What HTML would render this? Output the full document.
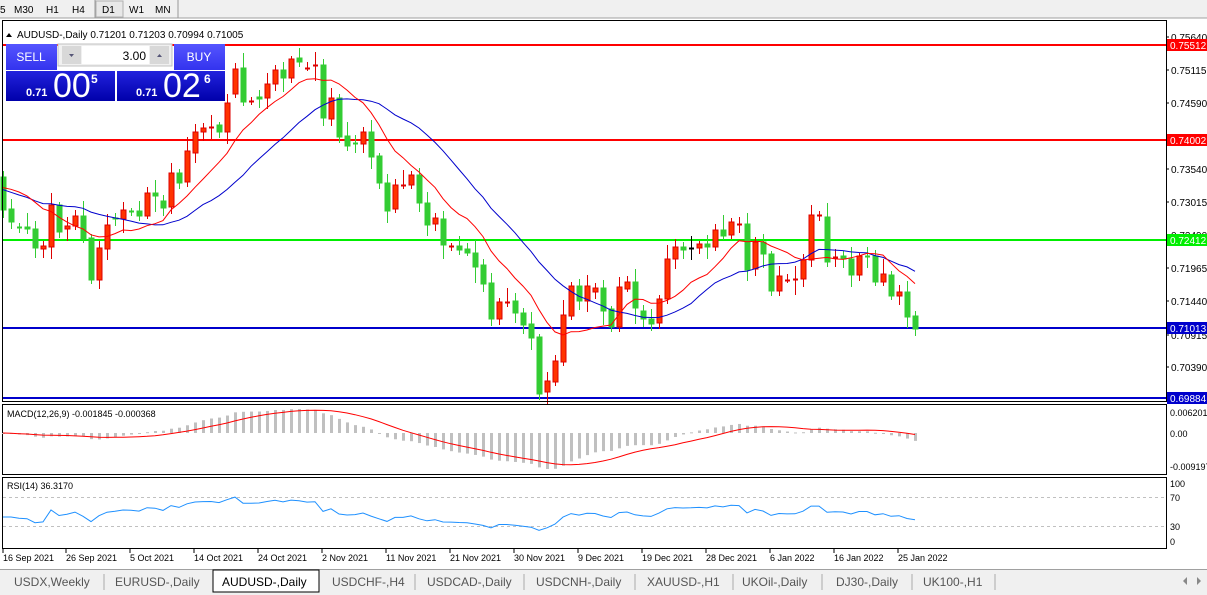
<!DOCTYPE html>
<html><head><meta charset="utf-8"><style>
body{margin:0;width:1207px;height:595px;overflow:hidden;background:#fff;font-family:"Liberation Sans",Tahoma,sans-serif;}
svg{position:absolute;left:0;top:0}
</style></head><body>
<svg id="s" width="1207" height="595" xmlns="http://www.w3.org/2000/svg" font-family="Liberation Sans, sans-serif" font-size="10"></svg>
<script>
const D=[
[177,210,'G'],[209,222,'G'],[227,227,'G'],[227,229,'G'],[229,248,'G'],[246,249,'R'],[205,247,'R'],[205,232,'G'],[226,229,'R'],[216,226,'R'],
[216,239,'G'],[238,280,'G'],[248,280,'R'],[225,249,'R'],[218,219,'G'],[210,219,'R'],[211,211,'G'],[211,216,'G'],[193,216,'R'],[193,196,'G'],
[201,208,'G'],[173,207,'R'],[173,183,'G'],[151,182,'R'],[132,153,'R'],[128,132,'R'],[127,127,'R'],[125,132,'G'],[103,132,'R'],[69,94,'R'],
[68,102,'G'],[101,101,'R'],[97,99,'G'],[84,98,'R'],[70,84,'R'],[70,78,'G'],[59,78,'R'],[58,62,'G'],[68,68,'R'],[65,65,'R'],
[65,118,'G'],[98,119,'R'],[98,137,'G'],[136,146,'G'],[143,143,'G'],[132,144,'R'],[132,157,'G'],[156,183,'G'],[183,211,'G'],[185,209,'R'],
[185,185,'R'],[175,185,'R'],[175,203,'G'],[203,225,'G'],[218,224,'R'],[219,245,'G'],[246,246,'R'],[246,250,'G'],[249,253,'G'],[253,267,'G'],
[265,284,'G'],[283,319,'G'],[302,319,'R'],[302,302,'R'],[301,313,'G'],[313,325,'G'],[324,338,'G'],[337,394,'G'],[381,392,'R'],[361,382,'R'],
[315,362,'R'],[286,316,'R'],[286,301,'G'],[286,301,'R'],[288,292,'R'],[288,311,'G'],[309,327,'G'],[287,327,'R'],[282,289,'R'],[282,308,'G'],
[311,319,'G'],[319,324,'G'],[299,323,'R'],[259,299,'R'],[247,259,'R'],[247,250,'G'],[248,248,'K'],[244,248,'R'],[244,247,'G'],[230,247,'R'],
[230,236,'G'],[222,235,'R'],[224,224,'R'],[224,270,'G'],[242,269,'R'],[242,254,'G'],[254,291,'G'],[276,291,'R'],[280,280,'R'],[279,279,'R'],
[260,279,'R'],[215,260,'R'],[215,215,'R'],[217,262,'G'],[257,257,'R'],[256,259,'G'],[259,275,'G'],[256,275,'R'],[256,256,'G'],[256,282,'G'],
[274,282,'R'],[275,296,'G'],[292,296,'R'],[292,317,'G'],[316,329,'G']];
const WU=[6,10,4,14,8,5,12,3,9,6,15,4,7,11,5,8,3,10,6,13];
const WD=[8,5,12,4,9,14,3,7,10,6,4,11,5,16,6,9,12,4,7,5];
let h='';
const X=i=>3+8*i;
h+=`<rect x="0" y="0" width="1207" height="18" fill="#f0f0f0"/>`;
h+=`<line x1="0" y1="18" x2="1207" y2="18" stroke="#a0a0a0"/>`;
[['5',0],['M30',14],['H1',46],['H4',72],['W1',129],['MN',155]].forEach(t=>h+=`<text x="${t[1]}" y="13" font-size="10" fill="#000">${t[0]}</text>`);
h+=`<rect x="96" y="1" width="27" height="16" fill="#e8e8e8" stroke="#b0b0b0"/><text x="102" y="13" font-size="10">D1</text>`;
h+=`<line x1="95" y1="0" x2="95" y2="18" stroke="#999"/><line x1="178" y1="0" x2="178" y2="18" stroke="#999"/>`;
const HL=[[45,'#ff0000','0.75512'],[140,'#ff0000','0.74002'],[240,'#00ee00','0.72412'],[328,'#0000cc','0.71013'],[398,'#0000cc','0.69884']];
HL.forEach(l=>h+=`<line x1="3" y1="${l[0]}" x2="1166" y2="${l[0]}" stroke="${l[1]}" stroke-width="2"/>`);
const closes=[];
D.forEach((d,i)=>{const x=X(i);let top=d[0],bot=d[1];const hi=top-WU[i%20],lo=bot+WD[(i*7)%20];
 const c=d[2]=='G'?'#33cc33':d[2]=='R'?'#ff3300':'#000';const st=d[2]=='G'?'#33cc33':d[2]=='R'?'#dd0000':'#000';
 closes.push(d[2]=='G'?bot:top);
 h+=`<line x1="${x+.5}" y1="${hi}" x2="${x+.5}" y2="${lo}" stroke="${st}"/>`;
 if(bot-top<1)h+=`<line x1="${x-2}" y1="${top+.5}" x2="${x+3}" y2="${top+.5}" stroke="${st}" stroke-width="2"/>`;
 else h+=`<rect x="${x-2}" y="${top}" width="5" height="${bot-top}" fill="${c}" stroke="${st}" stroke-width="1"/>`;});
function pl(a,col){return `<polyline fill="none" stroke="${col}" stroke-width="1" points="${a.map((v,i)=>X(i)+','+v.toFixed(1)).join(' ')}"/>`;}
const pre=[210,205,200,190,185,180,178,175,177,176];
function sma2(p){const all=pre.concat(closes);return closes.map((c,i)=>{let s=0,n=0;const k=i+pre.length;for(let j=Math.max(0,k-p+1);j<=k;j++){s+=all[j];n++;}return s/n;});}
h+=pl(sma2(20),'#0000cc')+pl(sma2(10),'#ff0000');
h+=`<polygon points="6,37 12,37 9,33" fill="#000"/><text x="17" y="38" font-size="10">AUDUSD-,Daily  0.71201 0.71203 0.70994 0.71005</text>`;
h+=`<defs><linearGradient id="gb" x1="0" y1="0" x2="0" y2="1"><stop offset="0" stop-color="#5555ff"/><stop offset="1" stop-color="#3333ee"/></linearGradient><linearGradient id="gd" x1="0" y1="0" x2="0" y2="1"><stop offset="0" stop-color="#2222dd"/><stop offset="1" stop-color="#0000aa"/></linearGradient></defs>`;
h+=`<rect x="6" y="44" width="51" height="26" fill="url(#gb)"/><text x="31" y="61" font-size="12" fill="#fff" text-anchor="middle">SELL</text>`;
h+=`<rect x="174" y="44" width="51" height="26" fill="url(#gb)"/><text x="199" y="61" font-size="12" fill="#fff" text-anchor="middle">BUY</text>`;
h+=`<rect x="58" y="44" width="114" height="22" fill="#f0f0f0" stroke="#c0c0c0"/><rect x="62" y="46" width="19" height="18" fill="#d8d8d8"/><rect x="150" y="46" width="19" height="18" fill="#d8d8d8"/><rect x="82" y="46" width="67" height="18" fill="#fff"/><text x="146" y="60" font-size="12" text-anchor="end">3.00</text><polygon points="69,54 74,54 71.5,57" fill="#557"/><polygon points="157,57 162,57 159.5,54" fill="#557"/>`;
h+=`<rect x="6" y="71" width="109" height="30" fill="url(#gd)"/><rect x="117" y="71" width="108" height="30" fill="url(#gd)"/>`;
h+=`<text x="26" y="96" font-size="11" fill="#fff" font-weight="bold">0.71</text><text x="53" y="97" font-size="34" fill="#fff">00</text><text x="91" y="83" font-size="12" fill="#fff" font-weight="bold">5</text>`;
h+=`<text x="136" y="96" font-size="11" fill="#fff" font-weight="bold">0.71</text><text x="163" y="97" font-size="34" fill="#fff">02</text><text x="204" y="83" font-size="12" fill="#fff" font-weight="bold">6</text>`;
h+=`<rect x="2.5" y="20.5" width="1164" height="381" fill="none" stroke="#000"/>`;
h+=`<rect x="2.5" y="404.5" width="1164" height="70" fill="none" stroke="#000"/>`;
h+=`<rect x="2.5" y="477.5" width="1164" height="71" fill="none" stroke="#000"/>`;
[[37,'0.75640'],[70,'0.75115'],[103,'0.74590'],[169,'0.73540'],[202,'0.73015'],[235,'0.72490'],[268,'0.71965'],[301,'0.71440'],[335,'0.70915'],[367,'0.70390']].forEach(p=>h+=`<line x1="1166" y1="${p[0]}" x2="1169" y2="${p[0]}" stroke="#000"/><text x="1171" y="${p[0]+4}" font-size="10">${p[1]}</text>`);
HL.forEach(l=>h+=`<rect x="1167" y="${l[0]-6}" width="40" height="12" fill="${l[1]}"/><text x="1170" y="${l[0]+4}" font-size="10" fill="#fff">${l[2]}</text>`);
const pr=closes.map(c=>-c);
function ema(a,p){const k=2/(p+1);let e=a[0];return a.map(v=>e=v*k+e*(1-k));}
const m12=ema(pr,12),m26=ema(pr,26);const macd=m12.map((v,i)=>v-m26[i]);
const sig=macd.map((v,i)=>{let s=0,n=0;for(let j=Math.max(0,i-8);j<=i;j++){s+=macd[j];n++;}return s/n;});
const mmax=Math.max(...macd),mmin=Math.min(...macd);
const f=v=>v>=0?433-v/mmax*24:433+v/mmin*36;
macd.forEach((v,i)=>{const y=f(v);h+=`<rect x="${X(i)-1}" y="${Math.min(y,433)}" width="3" height="${Math.max(1,Math.abs(y-433))}" fill="#c0c0c0"/>`;});
h+=pl(sig.map(f),'#ff0000');
h+=`<text x="7" y="417" font-size="9">MACD(12,26,9) -0.001845 -0.000368</text>`;
[[412,'0.006201'],[433,'0.00'],[466,'-0.009197']].forEach(p=>h+=`<text x="1170" y="${p[0]+4}" font-size="9">${p[1]}</text>`);
let ag=3.2,al=3.6;const rsi=[];const P=14;
for(let i=1;i<pr.length;i++){const d=pr[i]-pr[i-1];const g=Math.max(d,0),l=Math.max(-d,0);ag=(ag*(P-1)+g)/P;al=(al*(P-1)+l)/P;rsi.push(100-100/(1+ag/al));}
rsi.unshift(rsi[0]);
h+=`<line x1="3" y1="497.5" x2="1166" y2="497.5" stroke="#c0c0c0" stroke-dasharray="3,3"/><line x1="3" y1="526.5" x2="1166" y2="526.5" stroke="#c0c0c0" stroke-dasharray="3,3"/>`;
h+=pl(rsi.map(r=>541-r*0.58),'#1e90ff');
h+=`<text x="7" y="489" font-size="9">RSI(14) 36.3170</text>`;
[[483,'100'],[497,'70'],[526,'30'],[541,'0']].forEach(p=>h+=`<text x="1170" y="${p[0]+4}" font-size="9">${p[1]}</text>`);
[['16 Sep 2021',3],['26 Sep 2021',66],['5 Oct 2021',130],['14 Oct 2021',194],['24 Oct 2021',258],['2 Nov 2021',322],['11 Nov 2021',386],['21 Nov 2021',450],['30 Nov 2021',514],['9 Dec 2021',578],['19 Dec 2021',642],['28 Dec 2021',706],['6 Jan 2022',770],['16 Jan 2022',834],['25 Jan 2022',898]].forEach(d=>h+=`<line x1="${d[1]}" y1="549" x2="${d[1]}" y2="553" stroke="#000"/><text x="${d[1]}" y="561" font-size="9">${d[0]}</text>`);
h+=`<rect x="0" y="569" width="1207" height="26" fill="#f0f0f0"/><line x1="0" y1="569.5" x2="1207" y2="569.5" stroke="#a0a0a0"/>`;
h+=`<rect x="213" y="570" width="106" height="22" fill="#fff" stroke="#000"/>`;
[['USDX,Weekly',14],['EURUSD-,Daily',115],['AUDUSD-,Daily',222],['USDCHF-,H4',332],['USDCAD-,Daily',427],['USDCNH-,Daily',536],['XAUUSD-,H1',647],['UKOil-,Daily',742],['DJ30-,Daily',836],['UK100-,H1',923]].forEach((t,i)=>{h+=`<text x="${t[1]}" y="586" font-size="12" fill="${i==2?'#000':'#555'}">${t[0]}</text>`;});
[104,415,524,635,733,822,912,995].forEach(x=>{h+=`<line x1="${x}" y1="574" x2="${x}" y2="590" stroke="#aaa"/>`;});
h+=`<polygon points="1183,581 1187,577 1187,585" fill="#888"/><polygon points="1201,581 1197,577 1197,585" fill="#888"/>`;
document.getElementById('s').innerHTML=h;
</script>
</body></html>
